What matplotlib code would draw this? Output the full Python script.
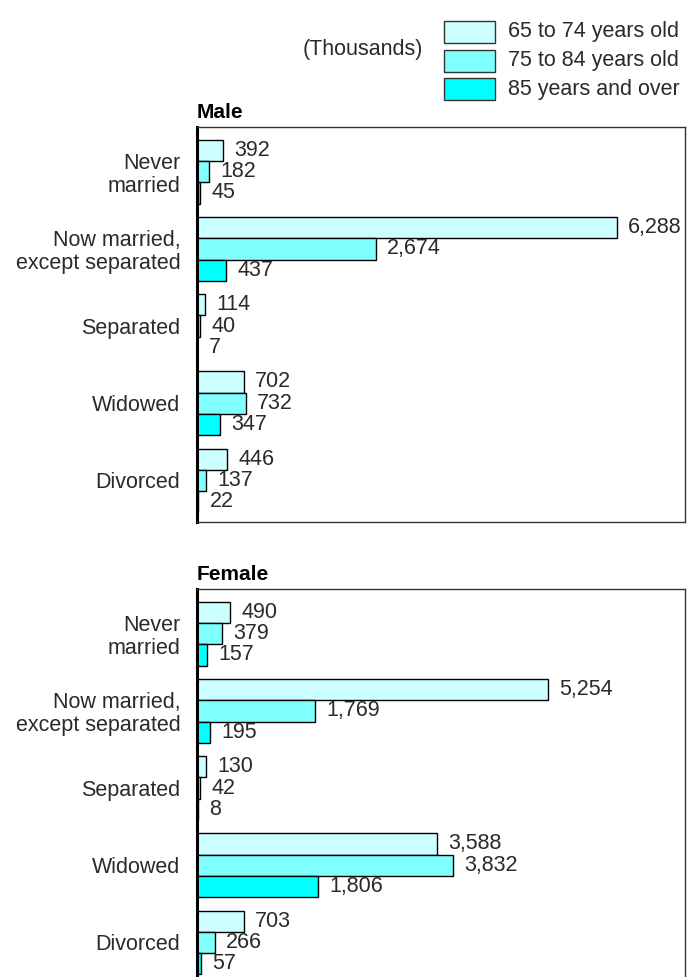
import numpy as np
import matplotlib
matplotlib.use("Agg")
import matplotlib.pyplot as plt
from matplotlib.patches import Rectangle

plt.rcParams['font.family'] = ['Liberation Sans', 'DejaVu Sans']

# marital status categories, values in thousands
categories = ["Never\nmarried", "Now married,\nexcept separated", "Separated", "Widowed", "Divorced"]
age_groups = ["65 to 74 years old", "75 to 84 years old", "85 years and over"]
colors = ["#ccffff", "#80ffff", "#00ffff"]

male_65_74 = [392, 6288, 114, 702, 446]
male_75_84 = [182, 2674, 40, 732, 137]
male_85 = [45, 437, 7, 347, 22]

female_65_74 = [490, 5254, 130, 3588, 703]
female_75_84 = [379, 1769, 42, 3832, 266]
female_85 = [157, 195, 8, 1806, 57]

W, H = 694, 977
TXT = "#2a2a2a"
FS = 15.5

fig = plt.figure(figsize=(W / 100, H / 100), dpi=100)


def px_axes(x0, y0, x1, y1):
    # pixel box (top-left origin) -> figure fraction
    return fig.add_axes([x0 / W, 1 - y1 / H, (x1 - x0) / W, (y1 - y0) / H])


def draw_panel(ax, series, title):
    y = np.arange(len(categories))
    h = 0.275
    for k, vals in enumerate(series):
        pos = y + (k - 1) * h
        ax.barh(pos, vals, height=h, color=colors[k], edgecolor="black", linewidth=1.0)
        for p, v in zip(pos, vals):
            ax.text(v + 170, p, f"{v:,}", va="center", ha="left", fontsize=FS, color=TXT)
    ax.set_xlim(0, 7306)
    ax.set_ylim(4.54, -0.58)
    ax.set_yticks(y)
    ax.set_yticklabels(categories, fontsize=FS, color=TXT, linespacing=1.1)
    ax.set_xticks([])
    ax.tick_params(axis="y", length=0, pad=12)
    for s in ["top", "right", "bottom"]:
        ax.spines[s].set_linewidth(1.0)
        ax.spines[s].set_color("#333333")
    ax.spines["left"].set_linewidth(2.2)
    ax.spines["left"].set_color("black")
    ax.text(0, 1.012, title, transform=ax.transAxes, ha="left", va="bottom",
            fontsize=15, fontweight="bold", color="black")


ax_m = px_axes(197, 127, 685, 522)
draw_panel(ax_m, [male_65_74, male_75_84, male_85], "Male")

ax_f = px_axes(197, 589, 685, 984)
draw_panel(ax_f, [female_65_74, female_75_84, female_85], "Female")

fig.text(303 / W, 1 - 50 / H, "(Thousands)", fontsize=FS, color=TXT, ha="left", va="center")

# legend boxes
for k, lab in enumerate(age_groups):
    cy = 32 + k * 28.5
    fig.patches.append(Rectangle((444 / W, 1 - (cy + 11) / H), 51 / W, 22 / H,
                                 transform=fig.transFigure, facecolor=colors[k],
                                 edgecolor="#333333", linewidth=1.0))
    fig.text(508 / W, 1 - cy / H, lab, fontsize=FS, color=TXT, ha="left", va="center")

fig.savefig("out.png", dpi=100)
